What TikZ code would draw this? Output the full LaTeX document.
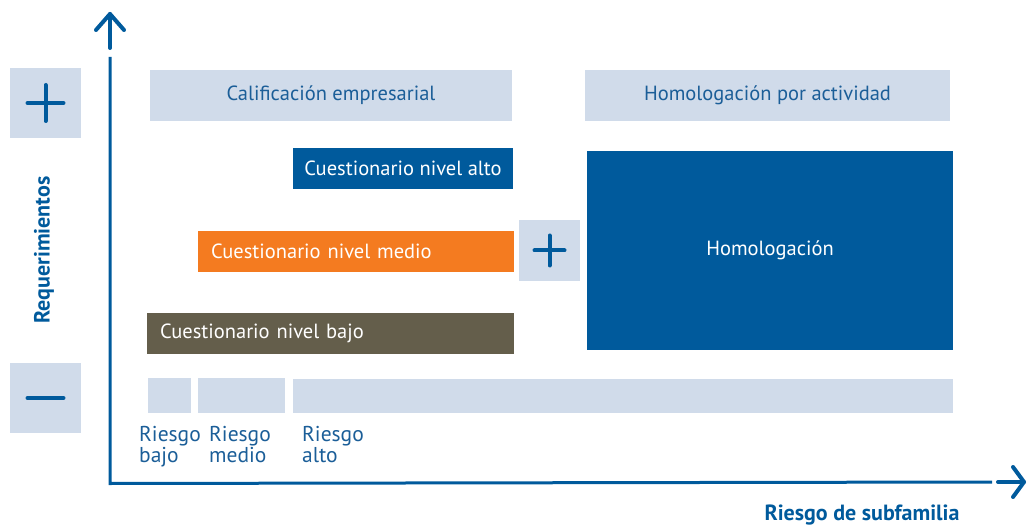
\documentclass[tikz,border=0pt]{standalone}
\usepackage{fontspec}
\setmainfont{PT Sans}
\definecolor{lightbox}{HTML}{D0DBEA}
\definecolor{sblue}{HTML}{005A9C}
\definecolor{tblue}{HTML}{1B5E98}
\definecolor{sorange}{HTML}{F47B20}
\definecolor{sbrown}{HTML}{645E4B}
\begin{document}
\begin{tikzpicture}[x=1pt,y=-1pt,
  box/.style={rectangle, inner sep=0pt, draw=none, font=\fontsize{20.5}{22}\selectfont},
  lbox/.style={box, fill=lightbox, text=tblue},
  dbox/.style={box, fill=sblue, text=white},
  cbox/.style={box, text=white, align=left, inner xsep=13pt, text width=#1},
  sign/.style={draw=sblue, line width=4pt, line cap=round},
  axis/.style={draw=sblue, line width=3pt},
  tip/.style={draw=sblue, line width=4pt, line cap=round, line join=round},
  risk/.style={inner sep=0pt, anchor=north west, align=left, text=tblue, font=\fontsize{21.5}{19}\selectfont},
  axlabel/.style={inner sep=0pt, text=sblue, font=\bfseries\fontsize{22}{24}\selectfont}]
\useasboundingbox (0,0) rectangle (1027,526);
% plus / minus boxes
\node[lbox, minimum width=71pt, minimum height=70pt] (pbox) at (45.5,103) {};
\draw[sign] ([xshift=-18pt]pbox.center) -- ([xshift=18pt]pbox.center);
\draw[sign] ([yshift=-18pt]pbox.center) -- ([yshift=18pt]pbox.center);
\node[lbox, minimum width=71pt, minimum height=70pt] (mbox) at (45.5,398) {};
\draw[sign] ([xshift=-18pt]mbox.center) -- ([xshift=18pt]mbox.center);
\node[axlabel, rotate=90] (req) at (44,250) {Requerimientos};
% axes
\coordinate (o) at (110,482);
\coordinate (ytop) at (110,57);
\coordinate (yend) at (110,48);
\coordinate (yapex) at (110,14);
\coordinate (xend) at (992,482);
\coordinate (xstart) at (998,482);
\coordinate (xapex) at (1024,482);
\draw[axis] (ytop) -- (110,483.5) -- (xend);
\draw[tip] (yend) -- (yapex);
\draw[tip] (96,30) -- (yapex) -- (124,30);
\draw[tip] (xstart) -- (xapex);
\draw[tip] (1013,467) -- (xapex) -- (1013,497);
\node[axlabel] (xlab) at (862,515) {Riesgo de subfamilia};
% top boxes
\node[lbox, minimum width=362pt, minimum height=51pt] (cal) at (331,95.5) {Calificación empresarial};
\node[lbox, minimum width=365pt, minimum height=51pt] (hpa) at (767.5,95.5) {Homologación por actividad};
% cuestionarios
\node[dbox, minimum width=220pt, minimum height=41pt] (alto) at (403,168.5) {Cuestionario nivel alto};
\node[cbox=290pt, fill=sorange, minimum height=41pt] (medio) at (356,251.5) {Cuestionario nivel medio};
\node[cbox=341pt, fill=sbrown, minimum height=41pt] (bajo) at (330.5,333.5) {Cuestionario nivel bajo};
\node[lbox, minimum width=61pt, minimum height=61pt] (spbox) at (549.5,250.5) {};
\draw[sign] ([xshift=-15pt]spbox.center) -- ([xshift=15pt]spbox.center);
\draw[sign] ([yshift=-15pt]spbox.center) -- ([yshift=15pt]spbox.center);
\node[dbox, minimum width=366pt, minimum height=199pt] (hom) at (770,250.5) {Homologación};
% risk bars
\node[lbox, minimum width=43pt, minimum height=35pt] (rb) at (169.5,395.5) {};
\node[lbox, minimum width=87pt, minimum height=35pt] (rm) at (241.5,395.5) {};
\node[lbox, minimum width=660pt, minimum height=34pt] (ra) at (623,396) {};
\node[risk] (lb) at (139,426) {Riesgo\\bajo};
\node[risk] (lm) at (209,426) {Riesgo\\medio};
\node[risk] (la) at (302,426) {Riesgo\\alto};
\end{tikzpicture}
\end{document}
